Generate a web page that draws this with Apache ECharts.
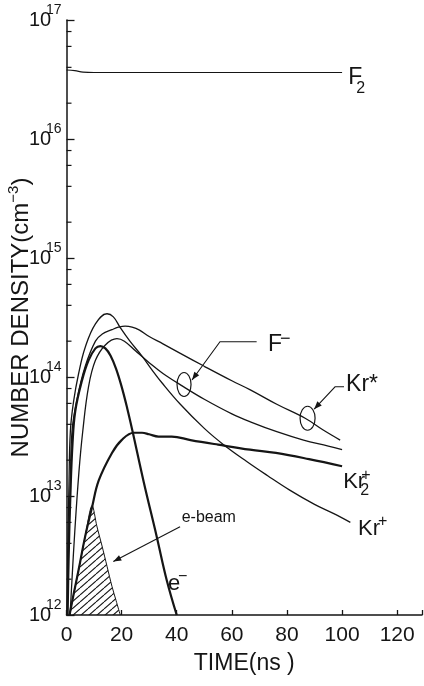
<!DOCTYPE html>
<html>
<head>
<meta charset="utf-8">
<script src="https://cdn.jsdelivr.net/npm/echarts@6/dist/echarts.min.js"></script>
<style>
  html, body { margin: 0; padding: 0; background: #fff; }
  #chart { width: 424px; height: 686px; }
</style>
</head>
<body>
<div id="chart"></div>
<script>
// Time in ns, number densities in cm^-3.
const f2Time = [0, 3, 6, 10, 30, 60, 100];
const f2Dens = [3.8e16, 3.75e16, 3.65e16, 3.62e16, 3.62e16, 3.62e16, 3.62e16];

const krIonTime = [0.2, 0.5, 0.9, 1.4, 2.6, 4.4, 6.8, 10.5, 14.7, 17, 19.5, 23, 27.4, 31, 34.7, 41.3, 50, 57, 65.4, 73, 81, 90, 97, 103];
const krIonDens = [1.0e12, 4.0e12, 1.26e13, 3.5e13, 6.3e13, 1.07e14, 1.78e14, 2.8e14, 3.4e14, 3.2e14, 2.6e14, 2.0e14, 1.5e14, 1.15e14, 8.9e13, 5.9e13, 3.7e13, 2.7e13, 1.95e13, 1.48e13, 1.12e13, 8.5e12, 7.1e12, 6.0e12];

const elecTime = [0.4, 0.8, 1.4, 2.2, 3.2, 5.6, 8.0, 10.5, 12.3, 14.1, 16, 18, 20, 22, 24, 28, 32.7, 36.4, 40];
const elecDens = [1.0e12, 3.2e12, 1.0e13, 2.8e13, 5.2e13, 9.3e13, 1.38e14, 1.74e14, 1.82e14, 1.74e14, 1.51e14, 1.17e14, 8.3e13, 5.5e13, 3.47e13, 1.32e13, 4.6e12, 1.95e12, 1.0e12];

const krStarTime = [0.3, 0.8, 1.4, 2.0, 3.8, 6.8, 10.5, 13, 16.5, 18.8, 21.3, 23.8, 26.5, 30, 35, 41.3, 50, 60, 66.7, 76.3, 86.6, 93, 99.3];
const krStarDens = [1.0e12, 4.0e12, 1.26e13, 3.5e13, 6.5e13, 1.23e14, 2.0e14, 2.3e14, 2.5e14, 2.62e14, 2.68e14, 2.63e14, 2.48e14, 2.19e14, 1.9e14, 1.58e14, 1.23e14, 9.3e13, 7.8e13, 5.9e13, 4.5e13, 3.6e13, 2.95e13];

const fIonTime = [1.3, 2.0, 3.0, 4.5, 5.9, 8.0, 10.5, 14.1, 18.3, 21, 25, 30, 35, 42.4, 50, 60, 66.7, 76.3, 86, 95, 100];
const fIonDens = [1.0e12, 2.0e12, 5.0e12, 1.58e13, 3.5e13, 8.3e13, 1.38e14, 1.86e14, 2.1e14, 2.0e14, 1.66e14, 1.32e14, 1.07e14, 8.3e13, 6.5e13, 4.9e13, 4.2e13, 3.47e13, 2.95e13, 2.63e13, 2.45e13];

const kr2IonTime = [1.1, 2.6, 4.4, 6.8, 9.3, 11.7, 16.5, 20, 24.4, 27.4, 30, 33.4, 38.2, 45, 55, 66.6, 76, 88, 100];
const kr2IonDens = [1.0e12, 1.5e12, 2.4e12, 4.6e12, 8.1e12, 1.35e13, 2.3e13, 2.95e13, 3.4e13, 3.4e13, 3.3e13, 3.16e13, 3.16e13, 2.95e13, 2.7e13, 2.45e13, 2.3e13, 2.04e13, 1.78e13];

const beamTime = [1.1, 2.6, 4.4, 6.8, 9.3, 11, 12.9, 14.7, 16.5, 18, 19.5];
const beamDens = [1.0e12, 1.5e12, 2.4e12, 4.6e12, 8.3e12, 5.6e12, 3.8e12, 2.57e12, 1.74e12, 1.32e12, 1.0e12];

// Axis ticks
const xTicks = [0, 20, 40, 60, 80, 100, 120];
const yDecades = [12, 13, 14, 15, 16];
const minorMultipliers = [2, 4, 6, 8];

const INK = '#151515';
const REGULAR = "'Liberation Sans', Arial, sans-serif";

const zip = (xs, ys) => xs.map((x, i) => [x, ys[i]]);
const minorTickValues = [];
yDecades.forEach(d => minorMultipliers.forEach(m => minorTickValues.push(m * Math.pow(10, d))));

function hatchPattern() {
  const c = document.createElement('canvas');
  c.width = 8; c.height = 7;
  const g = c.getContext('2d');
  g.strokeStyle = INK; g.lineWidth = 1.1;
  for (const s of [-8, 0, 8]) {
    g.beginPath(); g.moveTo(s, 7); g.lineTo(s + 8, 0); g.stroke();
  }
  return c;
}

function curve(name, t, n, width) {
  return {
    name, type: 'line', data: zip(t, n), showSymbol: false, smooth: 0.4,
    silent: true, z: 3,
    lineStyle: { color: INK, width: width }
  };
}

const chart = echarts.init(document.getElementById('chart'), null, { renderer: 'canvas' });

chart.setOption({
  backgroundColor: '#fff',
  animation: false,
  grid: { left: 66.5, right: 2, top: 20, bottom: 71, containLabel: false, outerBoundsMode: 'none' },
  xAxis: {
    type: 'value', min: 0, max: 129, interval: 20,
    name: 'TIME(ns )', nameLocation: 'middle', nameGap: 37, nameMoveOverlap: false,
    nameTextStyle: { fontFamily: REGULAR, fontSize: 23, color: INK },
    axisLine: { lineStyle: { color: INK, width: 1.5 } },
    axisTick: { inside: true, length: 5, lineStyle: { color: INK, width: 1.3 } },
    axisLabel: {
      margin: 10, fontFamily: REGULAR, fontSize: 21, color: INK,
      formatter: v => (xTicks.indexOf(v) >= 0 ? String(v) : '')
    },
    splitLine: { show: false }
  },
  yAxis: {
    type: 'log', logBase: 10, min: 1e12, max: 1e17,
    name: '{a|NUMBER DENSITY(cm}{s|−3}{a|)}', nameLocation: 'middle', nameRotate: 90,
    nameGap: 30, nameMoveOverlap: false,
    nameTextStyle: {
      color: INK,
      rich: {
        a: { fontFamily: REGULAR, fontSize: 24, lineHeight: 30, color: INK },
        s: { fontFamily: REGULAR, fontSize: 15, lineHeight: 15, verticalAlign: 'top', color: INK }
      }
    },
    axisLine: { lineStyle: { color: INK, width: 1.5 } },
    axisTick: { inside: true, length: 8, lineStyle: { color: INK, width: 1.3 } },
    axisLabel: {
      margin: 5,
      formatter: v => '{a|10}{b|' + Math.round(Math.log10(v)) + '}',
      rich: {
        a: { fontFamily: REGULAR, fontSize: 20, lineHeight: 34, width: 17, align: 'left', color: INK },
        b: { fontFamily: REGULAR, fontSize: 14, lineHeight: 16, verticalAlign: 'top', align: 'left', color: INK }
      }
    },
    splitLine: { show: false },
    minorTick: { show: false }
  },
  series: [
    {
      name: 'e-beam', type: 'line', data: zip(beamTime, beamDens), showSymbol: false,
      smooth: 0.3, silent: true, z: 2,
      lineStyle: { color: INK, width: 1 },
      areaStyle: { origin: 'start', color: { image: hatchPattern(), repeat: 'repeat' }, opacity: 1 }
    },
    curve('F2', f2Time, f2Dens, 1.2),
    curve('Kr+', krIonTime, krIonDens, 1.3),
    curve('Kr*', krStarTime, krStarDens, 1.3),
    curve('F-', fIonTime, fIonDens, 1.3),
    curve('e-', elecTime, elecDens, 2.2),
    curve('Kr2+', kr2IonTime, kr2IonDens, 2.2),
    {
      name: 'minor ticks', type: 'custom', silent: true, clip: false, z: 5,
      data: minorTickValues.map(v => [0, v]),
      renderItem(params, api) {
        const p = api.coord([0, api.value(1)]);
        return {
          type: 'line',
          shape: { x1: p[0], y1: p[1], x2: p[0] + 5, y2: p[1] },
          style: { stroke: INK, lineWidth: 1.2 }
        };
      }
    }
  ]
});

// Annotations, anchored in data coordinates
const px = (t, n) => chart.convertToPixel({ gridIndex: 0 }, [t, n]);

function txt(anchor, text, size, dx, dy) {
  return {
    type: 'text', silent: true, z: 10,
    style: {
      text, x: anchor[0] + dx, y: anchor[1] + dy,
      font: size + 'px ' + REGULAR, fill: INK,
      align: 'left', verticalAlign: 'middle'
    }
  };
}
function poly(points, width) {
  return { type: 'polyline', silent: true, z: 10, shape: { points }, style: { stroke: INK, lineWidth: width || 1.1, fill: null } };
}
function arrowHead(from, to) {
  const dx = to[0] - from[0], dy = to[1] - from[1];
  const len = Math.hypot(dx, dy), ux = dx / len, uy = dy / len;
  const L = 8, W = 3;
  const bx = to[0] - ux * L, by = to[1] - uy * L;
  return {
    type: 'polygon', silent: true, z: 10,
    shape: { points: [to, [bx - uy * W, by + ux * W], [bx + uy * W, by - ux * W]] },
    style: { fill: INK }
  };
}
function ring(center, rx, ry) {
  return { type: 'ellipse', silent: true, z: 10, shape: { cx: center[0], cy: center[1], rx, ry }, style: { fill: null, stroke: INK, lineWidth: 1.2 } };
}

const g = [];
// F2
const aF2 = px(102.2, 3.29e16);
g.push(txt(aF2, 'F', 23, 0, 0), txt(aF2, '2', 16, 8, 11));
// F-
const aF = px(73.1, 1.86e14);
g.push(txt(aF, 'F', 23, 0, 0), txt(aF, '−', 18, 12, -6));
const fL1 = px(69.0, 1.98e14), fL2 = px(55.7, 1.98e14), fTip = px(45.55, 9.44e13);
g.push(poly([fL1, fL2, fTip]), arrowHead(fL2, fTip), ring(px(42.65, 8.65e13), 7, 12));
// Kr*
const aKs = px(101.45, 8.57e13);
g.push(txt(aKs, 'Kr*', 23, 0, 0));
const kL1 = px(100.7, 8.28e13), kL2 = px(97.45, 8.28e13), kTip = px(89.85, 5.36e13);
g.push(poly([kL1, kL2, kTip]), arrowHead(kL2, kTip), ring(px(87.48, 4.5e13), 7.5, 12));
// Kr2+
const aK2 = px(100.4, 1.32e13);
g.push(txt(aK2, 'Kr', 22, 0, 0), txt(aK2, '+', 16, 18, -6), txt(aK2, '2', 16, 17, 9));
// Kr+
const aK1 = px(105.8, 5.28e12);
g.push(txt(aK1, 'Kr', 22, 0, 0), txt(aK1, '+', 16, 20, -7));
// e-
const aE = px(36.84, 1.82e12);
g.push(txt(aE, 'e', 22, 0, 0), txt(aE, '−', 16, 10, -7));
// e-beam
const aB = px(41.8, 6.53e12);
g.push(txt(aB, 'e-beam', 16, 0, 0));
const bFrom = px(41.2, 5.52e12), bTip = px(16.99, 2.81e12);
g.push(poly([bFrom, bTip]), arrowHead(bFrom, bTip));

chart.setOption({ graphic: g });
</script>
</body>
</html>
